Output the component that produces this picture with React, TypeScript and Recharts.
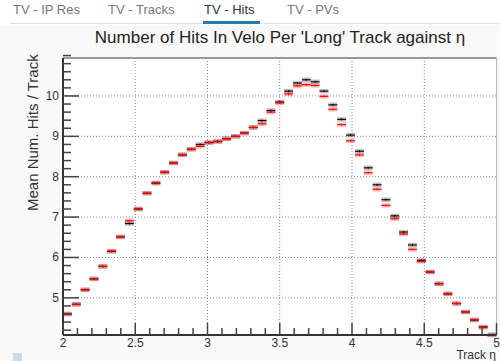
import React from 'react';
import { ScatterChart, Scatter, XAxis, YAxis, ErrorBar, ReferenceLine, ReferenceArea } from 'recharts';

// 49 equal bins in eta, 2 -> 5
const BINS = 49;
const X_MIN = 2;
const X_MAX = 5;
const Y_MIN = 4.08;
const Y_MAX = 10.94;

const blackHits = [
  4.6, 4.84, 5.2, 5.47, 5.78, 6.15, 6.51, 6.84, 7.2, 7.59, 7.84, 8.11, 8.34, 8.54, 8.68, 8.8, 8.85,
  8.87, 8.94, 9.0, 9.08, 9.22, 9.39, 9.64, 9.85, 10.12, 10.32, 10.4, 10.35, 10.12, 9.78, 9.42, 9.03,
  8.63, 8.22, 7.8, 7.43, 7.03, 6.63, 6.31, 5.93, 5.64, 5.35, 5.1, 4.86, 4.65, 4.45, 4.28, 4.08,
];

const redHits = [
  4.6, 4.84, 5.2, 5.47, 5.78, 6.16, 6.51, 6.91, 7.2, 7.59, 7.85, 8.11, 8.34, 8.55, 8.68, 8.75, 8.84,
  8.88, 8.94, 9.0, 9.08, 9.22, 9.31, 9.6, 9.83, 10.05, 10.25, 10.28, 10.26, 9.99, 9.67, 9.29, 8.89,
  8.54, 8.1, 7.69, 7.29, 6.96, 6.58, 6.2, 5.9, 5.64, 5.35, 5.1, 4.86, 4.65, 4.46, 4.27, 4.09,
];

const xMajor = [2, 2.5, 3, 3.5, 4, 4.5, 5];
const yMajor = [5, 6, 7, 8, 9, 10];
const tabs = ['TV - IP Res', 'TV - Tracks', 'TV - Hits', 'TV - PVs'];
const tabLeft = [13, 108, 204, 287];

const binWidth = (X_MAX - X_MIN) / BINS;
const binCenters = blackHits.map((_, i) => X_MIN + (i + 0.5) * binWidth);
const blackData = binCenters.map((x, i) => ({ x, y: blackHits[i] }));
const redData = binCenters.map((x, i) => ({ x, y: redHits[i] }));

const xTicks: number[] = [];
for (let i = 0; i <= 30; i++) xTicks.push(+(X_MIN + i * 0.1).toFixed(2));
const yTicks: number[] = [];
for (let i = 0; i <= 34; i++) yTicks.push(+(4.2 + i * 0.2).toFixed(2));

const isMajor = (list: number[], v: number) => list.some((m) => Math.abs(m - v) < 1e-6);

const XTick = (props: any) => {
  const { x, y, payload } = props;
  const major = isMajor(xMajor, payload.value);
  return (
    <g>
      <line x1={x} x2={x} y1={y} y2={y - (major ? 12 : 7)} stroke="#444" strokeWidth={1.5} />
      {major && (
        <text x={x} y={y + 12} textAnchor="middle" fontSize={12} fill="#333">
          {String(payload.value)}
        </text>
      )}
    </g>
  );
};

const YTick = (props: any) => {
  const { x, y, payload } = props;
  const major = isMajor(yMajor, payload.value);
  return (
    <g>
      <line x1={x} x2={x + (major ? 16 : 8)} y1={y} y2={y} stroke="#444" strokeWidth={1.5} />
      {major && (
        <text x={x - 4} y={y + 4} textAnchor="end" fontSize={12} fill="#333">
          {String(payload.value)}
        </text>
      )}
    </g>
  );
};

const noDot = () => <g />;

function Profile({ data, color, boxColor }: { data: any[]; color: string; boxColor: string }) {
  return (
    <Scatter data={data} dataKey="y" shape={noDot} isAnimationActive={false}>
      <ErrorBar direction="x" dataKey={() => binWidth / 2} width={0} stroke={boxColor} strokeWidth={4.5} />
      <ErrorBar direction="x" dataKey={() => binWidth / 2} width={0} stroke={color} strokeWidth={1.1} />
      <ErrorBar direction="y" dataKey={() => 0.025} width={0} stroke={color} strokeWidth={1} />
    </Scatter>
  );
}

export default function App() {
  return (
    <div
      style={{
        position: 'absolute',
        left: 0,
        top: 0,
        width: 500,
        height: 361,
        overflow: 'hidden',
        background: '#fff',
        fontFamily: '"Liberation Sans", Arial, sans-serif',
      }}
    >
      {tabs.map((t, i) => (
        <span
          key={t}
          style={{
            position: 'absolute',
            left: tabLeft[i],
            top: 2,
            fontSize: 13,
            color: i === 2 ? '#333' : '#777',
            whiteSpace: 'nowrap',
          }}
        >
          {t}
        </span>
      ))}
      <div style={{ position: 'absolute', left: 10, top: 23, width: 490, height: 1, background: '#ddd' }} />
      <div style={{ position: 'absolute', left: 203, top: 21, width: 57, height: 3, background: '#2a79ad' }} />
      <div style={{ position: 'absolute', left: 0, top: 25, width: 500, height: 336, background: '#f9f9f9' }} />

      <div
        style={{
          position: 'absolute',
          left: 80,
          top: 28,
          width: 400,
          textAlign: 'center',
          fontSize: 17,
          color: '#222',
          whiteSpace: 'nowrap',
        }}
      >
        Number of Hits In Velo Per 'Long' Track against η
      </div>

      <div
        style={{
          position: 'absolute',
          left: 24,
          top: 211,
          transformOrigin: '0 0',
          transform: 'rotate(-90deg)',
          fontSize: 15,
          lineHeight: '17px',
          color: '#333',
          whiteSpace: 'nowrap',
        }}
      >
        Mean Num. Hits / Track
      </div>

      <div style={{ position: 'absolute', right: 4, top: 350, fontSize: 12, lineHeight: '11px', color: '#333', whiteSpace: 'nowrap' }}>
        Track η
      </div>
      <div style={{ position: 'absolute', left: 13, top: 353, width: 9, height: 9, background: '#c8dcec' }} />

      <div style={{ position: 'absolute', left: 0, top: 0 }}>
        <ScatterChart width={500} height={361} margin={{ top: 58, right: 3.5, left: 0, bottom: 0 }}>
          <XAxis
            type="number"
            dataKey="x"
            domain={[X_MIN, X_MAX]}
            allowDataOverflow
            ticks={xTicks}
            interval={0}
            tick={<XTick />}
            tickLine={false}
            tickSize={0}
            tickMargin={0}
            height={26}
            axisLine={{ stroke: '#333', strokeWidth: 2 }}
          />
          <YAxis
            type="number"
            dataKey="y"
            domain={[Y_MIN, Y_MAX]}
            allowDataOverflow
            ticks={yTicks}
            interval={0}
            tick={<YTick />}
            tickLine={false}
            tickSize={0}
            tickMargin={0}
            width={63}
            axisLine={{ stroke: '#333', strokeWidth: 2 }}
          />
          <ReferenceArea x1={X_MIN} x2={X_MAX} y1={Y_MIN} y2={Y_MAX} fill="#fff" fillOpacity={1} stroke="none" />
          {yMajor.map((v) => (
            <ReferenceLine key={'y' + v} y={v} stroke="#888" strokeDasharray="1 2" />
          ))}
          {xMajor.slice(1, -1).map((v) => (
            <ReferenceLine key={'x' + v} x={v} stroke="#888" strokeDasharray="1 2" />
          ))}
          <ReferenceLine y={Y_MAX} stroke="#999" strokeWidth={2} />
          <ReferenceLine x={X_MAX} stroke="#bbb" strokeWidth={1} />
          <Profile data={blackData} color="#000" boxColor="rgba(0,0,0,0.25)" />
          <Profile data={redData} color="#f00" boxColor="rgba(255,0,0,0.25)" />
        </ScatterChart>
      </div>
    </div>
  );
}
